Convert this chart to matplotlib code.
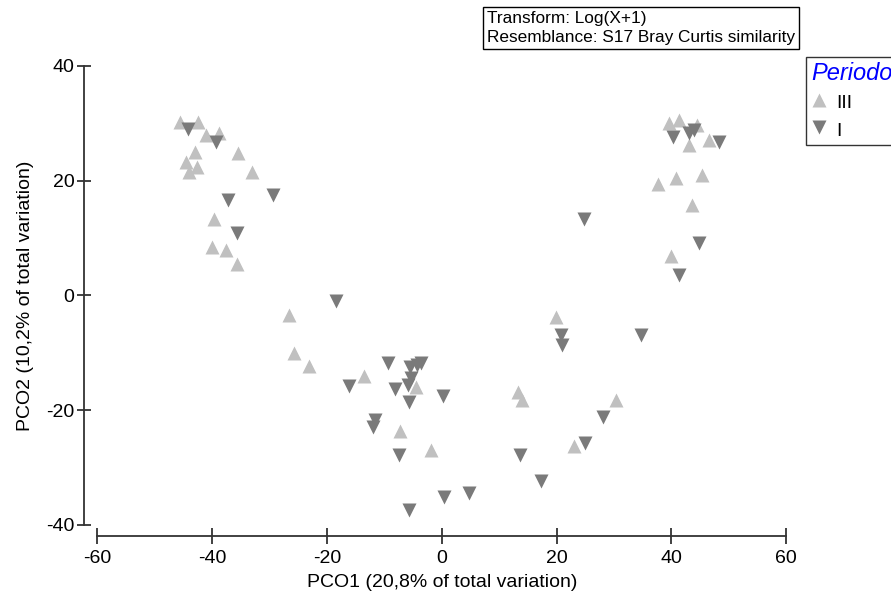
import matplotlib.pyplot as plt
from matplotlib.lines import Line2D

plt.rcParams['font.family'] = ['Liberation Sans', 'DejaVu Sans']
plt.rcParams['axes.unicode_minus'] = False

# PCO scores, period III (light, upward triangles)
pco1_iii = [-45.6, -42.5, -41.0, -38.8, -43.0, -44.6, -42.7, -44.0, -35.5, -33.1,
            -39.7, -40.1, -37.5, -35.6,
            -26.6, -25.8, -23.1, -13.6, -4.5, -7.2, -1.8, 13.3, 14.0, 19.9, 23.1, 30.4,
            39.5, 41.3, 44.5, 43.0, 46.6, 37.7, 40.8, 45.3, 43.5, 39.9]
pco2_iii = [30.2, 30.2, 28.0, 28.3, 25.0, 23.3, 22.4, 21.6, 24.8, 21.5,
            13.4, 8.5, 8.0, 5.5,
            -3.4, -10.1, -12.3, -14.0, -15.9, -23.7, -26.9, -16.8, -18.2, -3.7, -26.3, -18.2,
            30.0, 30.6, 29.7, 26.2, 27.1, 19.5, 20.4, 21.0, 15.8, 6.8]

# PCO scores, period I (dark, downward triangles)
pco1_i = [-44.2, -39.4, -37.2, -29.4, -35.6,
          -18.4, -16.2, -9.4, -5.6, -3.6, -4.3, -5.3, -5.9, -8.1, -5.7, 0.2,
          -12.0, -11.7, -7.4, 0.3, 4.8, -5.7,
          24.8, 20.8, 20.9, 34.7, 28.1, 25.0, 13.7, 17.2,
          40.2, 43.1, 43.9, 48.3, 44.8, 41.3]
pco2_i = [29.0, 26.8, 16.6, 17.5, 10.9,
          -0.9, -15.8, -11.8, -12.4, -11.7, -12.2, -14.4, -15.6, -16.3, -18.5, -17.6,
          -22.9, -21.7, -27.8, -35.2, -34.5, -37.4,
          13.4, -6.9, -8.6, -6.9, -21.1, -25.7, -27.8, -32.3,
          27.7, 28.3, 28.8, 26.8, 9.1, 3.6]

light = '#c0c0c0'
dark = '#7a7a7a'
axis_col = '#333333'
msize = 10.5

fig = plt.figure(figsize=(8.91, 5.94), dpi=100)
ax = fig.add_axes([0.1092, 0.1162, 0.7733, 0.7727])

ax.plot(pco1_iii, pco2_iii, linestyle='none', marker='^', ms=msize, color=light, mec='none')
ax.plot(pco1_i, pco2_i, linestyle='none', marker='v', ms=msize, color=dark, mec='none')

ax.set_xlim(-60, 60)
ax.set_ylim(-40, 40)
ax.set_xticks([-60, -40, -20, 0, 20, 40, 60])
ax.set_yticks([-40, -20, 0, 20, 40])

for side in ('top', 'right'):
    ax.spines[side].set_visible(False)
ax.spines['left'].set_position(('outward', 9.5))
ax.spines['bottom'].set_position(('outward', 7.7))
for side in ('left', 'bottom'):
    ax.spines[side].set_color(axis_col)
    ax.spines[side].set_linewidth(1.3)

ax.tick_params(axis='x', direction='inout', length=11, width=1.3, color=axis_col,
               labelsize=14, pad=4.5)
ax.tick_params(axis='y', direction='inout', length=10, width=1.3, color=axis_col,
               labelsize=14, pad=2)

ax.set_xlabel('PCO1 (20,8% of total variation)', fontsize=14, labelpad=5)
ax.set_ylabel('PCO2 (10,2% of total variation)', fontsize=14, labelpad=9)

fig.text(0.5465, 0.982, 'Transform: Log(X+1)\nResemblance: S17 Bray Curtis similarity',
         fontsize=12.4, va='top', ha='left', linespacing=1.35,
         bbox=dict(boxstyle='square,pad=0.22', fc='white', ec='black', lw=1))

handles = [
    Line2D([], [], linestyle='none', marker='^', ms=msize, color=light, mec='none', label='III'),
    Line2D([], [], linestyle='none', marker='v', ms=msize, color=dark, mec='none', label='I'),
]
leg = fig.legend(handles=handles, loc='upper left', bbox_to_anchor=(0.9046, 0.904),
                 borderaxespad=0, title='Periodo', fontsize=14, frameon=True,
                 fancybox=False, edgecolor='black', handlelength=0.8, handletextpad=0.5,
                 handleheight=1.3, borderpad=0.25, labelspacing=0.32, alignment='left')
leg.get_frame().set_linewidth(1)
leg.get_title().set_color('#0000ff')
leg.get_title().set_fontstyle('italic')
leg.get_title().set_fontsize(17)

fig.savefig('out.png', dpi=100)
